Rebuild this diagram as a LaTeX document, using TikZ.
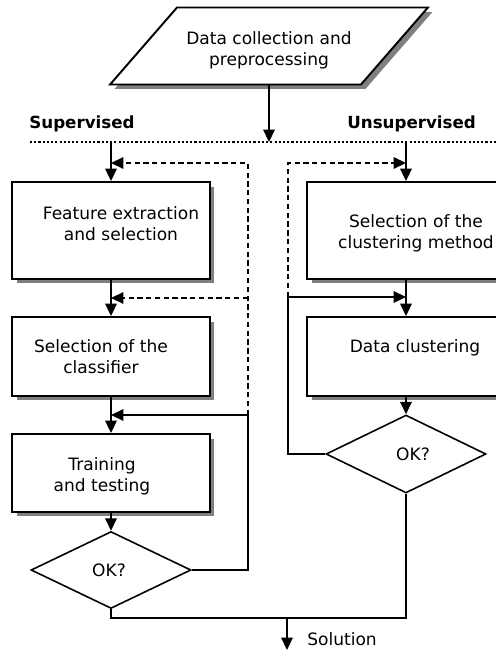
\documentclass[tikz,border=0pt]{standalone}
\usepackage{fontspec}
\setmainfont{DejaVu Sans}
\usetikzlibrary{shapes.geometric,shadows,arrows.meta}

\begin{document}
\begin{tikzpicture}[x=0.02cm, y=-0.02cm,
  font=\fontsize{9.7}{11.9}\selectfont,
  >={Triangle[length=7pt,width=6.5pt]},
  shade/.style={drop shadow={shadow xshift=0.09cm, shadow yshift=-0.09cm, fill=gray, opacity=1}},
  box/.style={draw, line width=1.1pt, fill=white, minimum width=3.96cm, shade},
  txt/.style={align=center, inner sep=0pt},
  tag/.style={anchor=base west, inner sep=0pt},
  test/.style={draw, diamond, line width=0.9pt, fill=white, minimum width=3.2cm,
    minimum height=1.54cm, inner sep=0pt},
  flow/.style={->, line width=0.9pt},
  back/.style={->, line width=0.9pt, dash pattern=on 3pt off 2pt}]
\def\xL{111}
\def\xR{406}
\useasboundingbox (0,0) rectangle (496,652);
\clip (0,0) rectangle (496,652);

% Input
\node[draw, line width=1.1pt, fill=white, trapezium, trapezium left angle=70,
  trapezium right angle=110, trapezium stretches=true, minimum width=6.36cm,
  minimum height=1.54cm, shade] (data) at (269,46) {};
\node[txt] (dataT) at ([shift={(0,4)}]data) {Data collection and\\preprocessing};

% Separator
\coordinate (sepL) at (30,142);
\coordinate (sepR) at (496,142);
\draw[line width=1.3pt, dash pattern=on 1.2pt off 1.2pt] (sepL) -- (sepR);
\node[tag, font=\fontsize{9.5}{11}\selectfont\bfseries] (sup) at (29,129) {Supervised};
\node[tag, font=\fontsize{9.5}{11}\selectfont\bfseries] (unsup) at (347,129) {Unsupervised};
\draw[flow] (data.south) -- (data.south |- sepL);

% Supervised branch
\node[box, minimum height=1.94cm] (feat) at (\xL,230.5) {};
\node[box, minimum height=1.58cm] (clsf) at (\xL,356.5) {};
\node[box, minimum height=1.56cm] (train) at (\xL,473) {};
\node[test] (okL) at (\xL,570) {};
\node[txt] (featT) at ([shift={(10,-7)}]feat) {Feature extraction\\and selection};
\node[txt] (clsfT) at ([shift={(-10,0)}]clsf) {Selection of the\\classifier};
\node[txt] (trainT) at ([shift={(-9,3)}]train) {Training\\and testing};
\node[txt] (okLT) at ([shift={(-2,0)}]okL) {OK?};

\draw[flow] (feat.north |- sepL) -- (feat.north);
\draw[flow] (feat) -- (clsf);
\draw[flow] (clsf) -- (train);
\draw[flow] (train) -- (okL);

\coordinate (fbL) at (248,415);
\coordinate (dL1) at (248,163);
\coordinate (dL2) at (248,298);
\draw[flow] (okL.east) -| (fbL) -- (fbL -| train.north);
\draw[back] (fbL) -- (dL1) -- (dL1 -| feat.north);
\draw[back] (dL2) -- (dL2 -| feat.south);

% Unsupervised branch
\node[box, minimum height=1.94cm] (meth) at (\xR,230.5) {};
\node[box, minimum height=1.58cm] (clus) at (\xR,356.5) {};
\node[test, minimum width=3.2cm, minimum height=1.56cm] (okR) at (\xR,454) {};
\node[txt] (methT) at ([shift={(10,3)}]meth) {Selection of the\\clustering method};
\node[txt] (clusT) at ([shift={(9,-9)}]clus) {Data clustering};
\node[txt] (okRT) at ([shift={(7,0)}]okR) {OK?};

\draw[flow] (meth.north |- sepR) -- (meth.north);
\draw[flow] (meth) -- (clus);
\draw[flow] (clus) -- (okR);

\coordinate (fbR) at (288,297);
\coordinate (dR) at (288,163);
\draw[flow] (okR.west) -| (fbR) -- (fbR -| meth.south);
\draw[back] (fbR) -- (dR) -- (dR -| meth.north);

% Output
\coordinate (join) at (287,618);
\coordinate (out) at (287,650);
\draw[line width=0.9pt] (okL.south) |- (okR.south |- join) -- (okR.south);
\draw[flow] (join) -- (out);
\node[tag] (sol) at (307,645) {Solution};

\end{tikzpicture}
\end{document}
